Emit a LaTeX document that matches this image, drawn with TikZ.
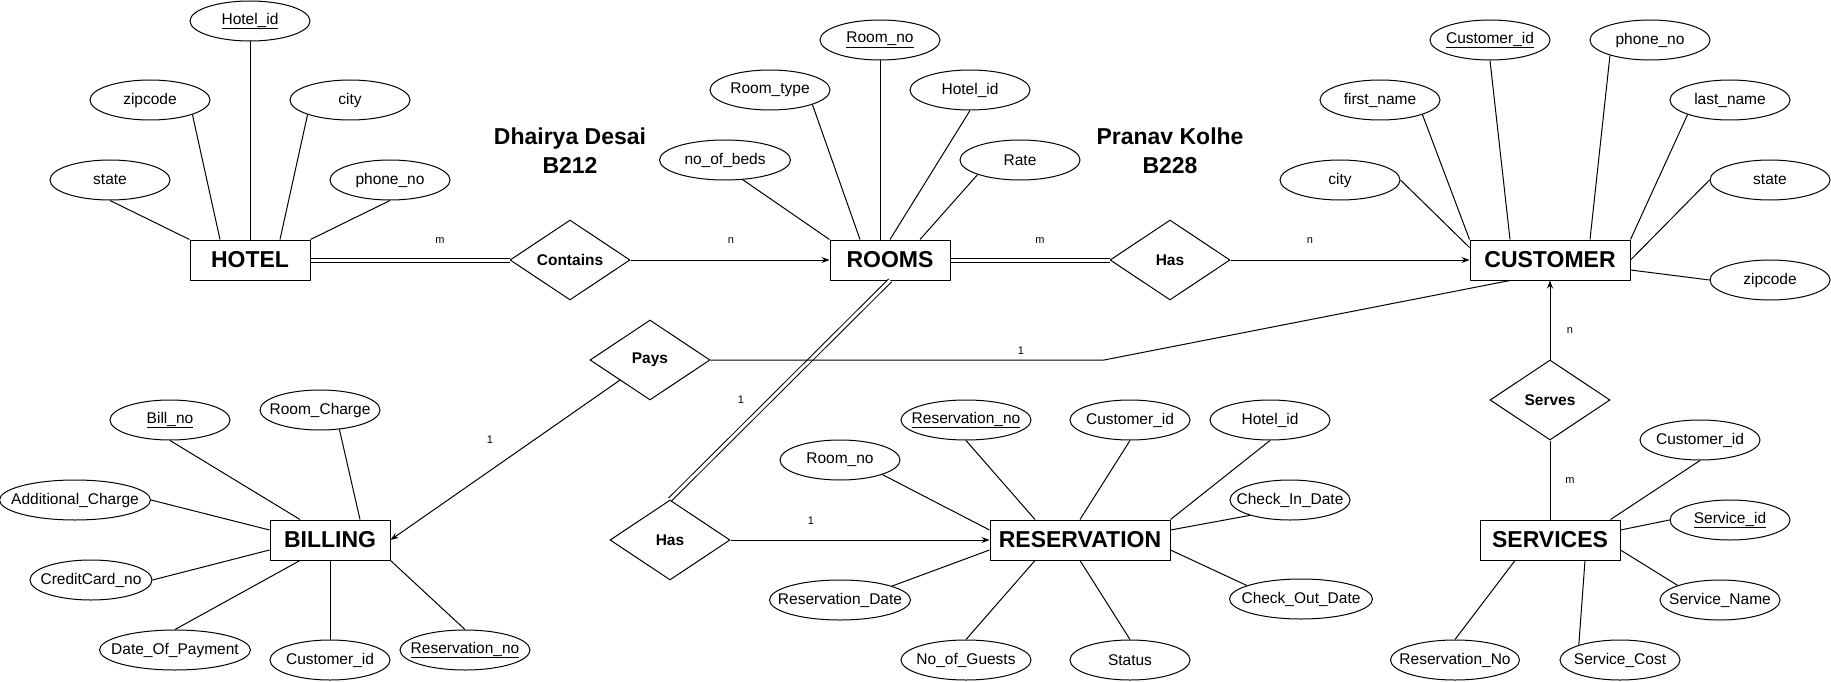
\documentclass[tikz,border=0pt]{standalone}
\usepackage{fontspec}
\setmainfont{Liberation Sans}
\usetikzlibrary{shapes.geometric,arrows.meta}

\tikzset{
  entity/.style={draw, rectangle, minimum width=120pt, minimum height=40pt, inner sep=0pt,
    font=\fontsize{23}{27}\selectfont\bfseries},
  attr/.style={draw, ellipse, minimum width=120pt, minimum height=40pt, inner sep=0pt,
    font=\fontsize{15.5}{18}\selectfont,
    execute at begin node=\hbox to 0pt\bgroup\hss, execute at end node=\hss\egroup},
  rel/.style={draw, diamond, minimum width=120pt, minimum height=80pt, inner sep=0pt,
    font=\fontsize{15.5}{18}\selectfont\bfseries},
  card/.style={inner sep=0pt, font=\fontsize{11}{13}\selectfont},
  twoline/.style={double, double distance=3pt},
  arr/.style={-{Stealth[length=8pt,width=6pt]}}
}

\begin{document}
\begin{tikzpicture}[x=1pt, y=-1pt, line width=1pt]
\useasboundingbox (0,0) rectangle (1831,682);

% entities
\node[entity] (hotel) at (250,260) {HOTEL};
\node[entity] (rooms) at (890,260) {ROOMS};
\node[entity, minimum width=160pt] (customer) at (1550,260) {CUSTOMER};
\node[entity] (billing) at (330,540) {BILLING};
\node[entity, minimum width=180pt] (reservation) at (1080,540) {RESERVATION};
\node[entity, minimum width=140pt] (services) at (1550,540) {SERVICES};

% relationships
\node[rel] (contains) at (570,260) {Contains};
\node[rel] (hasc) at (1170,260) {Has};
\node[rel] (pays) at (650,360) {Pays};
\node[rel] (hasr) at (670,540) {Has};
\node[rel] (serves) at (1550,400) {Serves};

\node[align=center, font=\fontsize{23}{29}\selectfont\bfseries] (names1) at (570,151) {Dhairya Desai\\B212};
\node[align=center, font=\fontsize{23}{29}\selectfont\bfseries] (names2) at (1170,151) {Pranav Kolhe\\B228};

% hotel
\node[attr] (h_id) at (250,21) {\underline{Hotel\_id}};
\node[attr] (h_zip) at (150,100) {zipcode};
\node[attr] (h_city) at (350,100) {city};
\node[attr] (h_state) at (110,180) {state};
\node[attr] (h_phone) at (390,180) {phone\_no};
\draw (h_id.south) -- (hotel.north);
\draw (h_zip.-19) -- ([xshift=-30pt]hotel.north);
\draw (h_city.-161) -- ([xshift=30pt]hotel.north);
\draw (h_state.south) -- (hotel.north west);
\draw (h_phone.south) -- (hotel.north east);

% rooms
\node[attr] (r_no) at (880,40) {\underline{Room\_no}};
\node[attr] (r_type) at (770,90) {Room\_type};
\node[attr] (r_hid) at (970,90) {Hotel\_id};
\node[attr, minimum width=131pt] (r_beds) at (725,160) {no\_of\_beds};
\node[attr] (r_rate) at (1020,160) {Rate};
\draw (r_no.south) -- ([xshift=-10pt]rooms.north);
\draw (r_type.-19) -- ([xshift=-30pt]rooms.north);
\draw (r_hid.south) -- (rooms.north);
\draw (r_beds.-48) -- (rooms.north west);
\draw (r_rate.-161) -- ([xshift=30pt]rooms.north);

% customer
\node[attr] (c_id) at (1490,40) {\underline{Customer\_id}};
\node[attr] (c_phone) at (1650,40) {phone\_no};
\node[attr] (c_first) at (1380,100) {first\_name};
\node[attr] (c_last) at (1730,100) {last\_name};
\node[attr] (c_city) at (1340,180) {city};
\node[attr] (c_state) at (1770,180) {state};
\node[attr] (c_zip) at (1770,280) {zipcode};
\draw (c_id.south) -- ([xshift=-40pt]customer.north);
\draw (c_phone.-159) -- ([xshift=40pt]customer.north);
\draw (c_first.-19) -- (customer.north west);
\draw (c_last.-161) -- (customer.north east);
\draw (c_city.east) -- ([yshift=-8pt]customer.north west);
\draw (c_state.west) -- (customer.east);
\draw (c_zip.west) -- ([yshift=-10pt]customer.east);

% billing
\node[attr] (b_no) at (170,420) {\underline{Bill\_no}};
\node[attr] (b_room) at (320,410) {Room\_Charge};
\node[attr, minimum width=151pt] (b_add) at (75,500) {Additional\_Charge};
\node[attr, minimum width=122pt] (b_card) at (91,580) {CreditCard\_no};
\node[attr, minimum width=151pt] (b_date) at (175,650) {Date\_Of\_Payment};
\node[attr] (b_cid) at (330,660) {Customer\_id};
\node[attr, minimum width=130pt] (b_res) at (465,650) {\underline{Reservation\_no}};
\draw (b_no.south) -- ([xshift=-30pt]billing.north);
\draw (b_room.-45) -- ([xshift=30pt]billing.north);
\draw (b_add.east) -- ([yshift=10pt]billing.west);
\draw (b_card.east) -- ([yshift=-10pt]billing.west);
\draw (b_date.north) -- ([xshift=-30pt]billing.south);
\draw (b_cid.north) -- (billing.south);
\draw (b_res.north) -- (billing.south east);

% reservation
\node[attr, minimum width=130pt] (v_no) at (966,420) {\underline{Reservation\_no}};
\node[attr] (v_cid) at (1130,420) {Customer\_id};
\node[attr] (v_hid) at (1270,420) {Hotel\_id};
\node[attr] (v_room) at (840,460) {Room\_no};
\node[attr] (v_in) at (1290,500) {Check\_In\_Date};
\node[attr, minimum width=141pt] (v_date) at (840,600) {Reservation\_Date};
\node[attr, minimum width=143pt] (v_out) at (1301,599) {Check\_Out\_Date};
\node[attr, minimum width=130pt] (v_guests) at (966,660) {No\_of\_Guests};
\node[attr] (v_status) at (1130,660) {Status};
\draw (v_no.south) -- ([xshift=-45pt]reservation.north);
\draw (v_cid.south) -- (reservation.north);
\draw (v_hid.south) -- (reservation.north east);
\draw (v_room.-19) -- ([yshift=10pt]reservation.west);
\draw (v_date.15) -- ([yshift=-10pt]reservation.west);
\draw (v_in.-159) -- ([yshift=10pt]reservation.east);
\draw (v_out.166) -- ([yshift=-10pt]reservation.east);
\draw (v_guests.north) -- ([xshift=-45pt]reservation.south);
\draw (v_status.north) -- (reservation.south);

% services
\node[attr] (s_cid) at (1700,440) {Customer\_id};
\node[attr] (s_id) at (1730,520) {\underline{Service\_id}};
\node[attr] (s_name) at (1720,600) {Service\_Name};
\node[attr] (s_cost) at (1620,660) {Service\_Cost};
\node[attr, minimum width=129pt] (s_res) at (1455,660) {Reservation\_No};
\draw (s_cid.south) -- ([xshift=-10pt]services.north east);
\draw (s_id.west) -- ([yshift=10pt]services.east);
\draw (s_name.161) -- ([yshift=-10pt]services.east);
\draw (s_cost.160) -- ([xshift=35pt]services.south);
\draw (s_res.north) -- ([xshift=-35pt]services.south);

% connections
\draw[twoline] (hotel.east) -- (contains.west);
\draw[arr] (contains.east) -- (rooms.west);
\draw[twoline] (rooms.east) -- (hasc.west);
\draw[arr] (hasc.east) -- (customer.west);
\draw[twoline] (rooms.south) -- (hasr.north);
\draw[arr] (hasr.east) -- (reservation.west);
\draw[arr] (pays.south west) -- (billing.east);
\coordinate (bend) at (1104,360);
\draw (pays.east) -- (bend) -- ([xshift=-40pt]customer.south);
\draw[arr] (serves.north) -- (customer.south);
\draw (serves.south) -- (services.north);

% cardinalities
\node[card] (k1) at (440,241) {m};
\node[card] (k2) at (731,241) {n};
\node[card] (k3) at (1040,241) {m};
\node[card] (k4) at (1310,241) {n};
\node[card] (k5) at (741,400) {1};
\node[card] (k6) at (1021,351) {1};
\node[card] (k7) at (490,440) {1};
\node[card] (k8) at (811,521) {1};
\node[card] (k9) at (1570,331) {n};
\node[card] (k10) at (1570,481) {m};
\end{tikzpicture}
\end{document}
